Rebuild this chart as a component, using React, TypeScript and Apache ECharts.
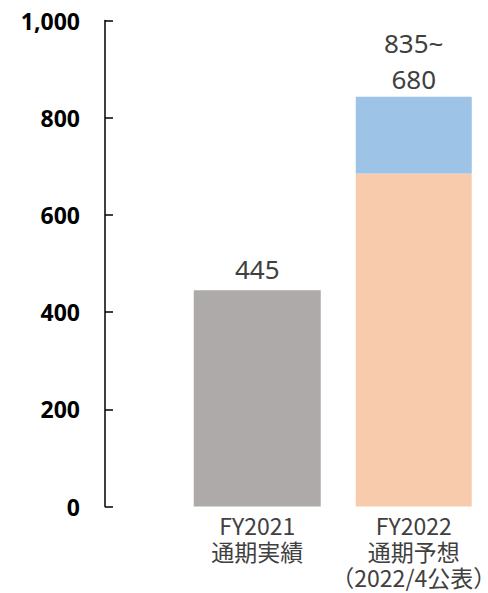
import React, { useEffect, useRef } from "react";
import * as echarts from "echarts";

const categories = ["FY2021\n通期実績", "FY2022\n通期予想\n（2022/4公表）"];
const actualValues = [445, "-"];
const forecastLowValues = ["-", 685];
const forecastRangeValues = ["-", 158];
const actualLabels = ["445", ""];
const forecastLabels = ["", "835~\n680"];
const yTicks = { min: 0, max: 1000, interval: 200 };

export default function App() {
  const ref = useRef<HTMLDivElement>(null);
  useEffect(() => {
    document.body.style.margin = "0";
    const chart = echarts.init(ref.current!, null, { renderer: "svg" });
    chart.setOption({
      animation: false,
      backgroundColor: "#ffffff",
      grid: {
        left: 179,
        top: 20.5,
        width: 313,
        height: 486,
        containLabel: false,
        outerBoundsMode: "none",
      },
      xAxis: [
        {
          type: "category",
          data: categories,
          axisLine: { show: false },
          axisTick: { show: false },
          axisLabel: {
            interval: 0,
            margin: 5,
            fontSize: 23,
            lineHeight: 26,
            color: "#404040",
            fontFamily: "Noto Sans CJK JP",
          },
        },
        { type: "category", data: categories, show: false },
      ],
      yAxis: {
        type: "value",
        min: yTicks.min,
        max: yTicks.max,
        interval: yTicks.interval,
        offset: 74,
        splitLine: { show: false },
        axisLine: { show: true, lineStyle: { color: "#000", width: 1.5 } },
        axisTick: { show: true, inside: true, length: 8, lineStyle: { color: "#000", width: 1.5 } },
        axisLabel: {
          margin: 25,
          fontSize: 23,
          fontWeight: "bold",
          color: "#000",
          fontFamily: "Noto Sans",
          formatter: (v: number) => v.toLocaleString("en-US"),
        },
      },
      series: [
        {
          type: "bar",
          xAxisIndex: 0,
          data: actualValues,
          barWidth: 127,
          itemStyle: { color: "#AEAAAA" },
          label: {
            show: true,
            position: "top",
            distance: 6,
            fontSize: 26,
            lineHeight: 30,
            color: "#404040",
            fontFamily: "Noto Sans",
            formatter: (p: any) => actualLabels[p.dataIndex],
          },
        },
        {
          type: "bar",
          xAxisIndex: 1,
          stack: "fc",
          data: forecastLowValues,
          barWidth: 116,
          itemStyle: { color: "#F8CBAD" },
        },
        {
          type: "bar",
          xAxisIndex: 1,
          stack: "fc",
          data: forecastRangeValues,
          barWidth: 116,
          itemStyle: { color: "#9DC3E6" },
          label: {
            show: true,
            position: "top",
            distance: 0,
            fontSize: 26,
            lineHeight: 36,
            color: "#404040",
            fontFamily: "Noto Sans",
            formatter: (p: any) => forecastLabels[p.dataIndex],
          },
        },
      ],
    });
    return () => chart.dispose();
  }, []);
  return <div ref={ref} style={{ width: 488, height: 593 }} />;
}
